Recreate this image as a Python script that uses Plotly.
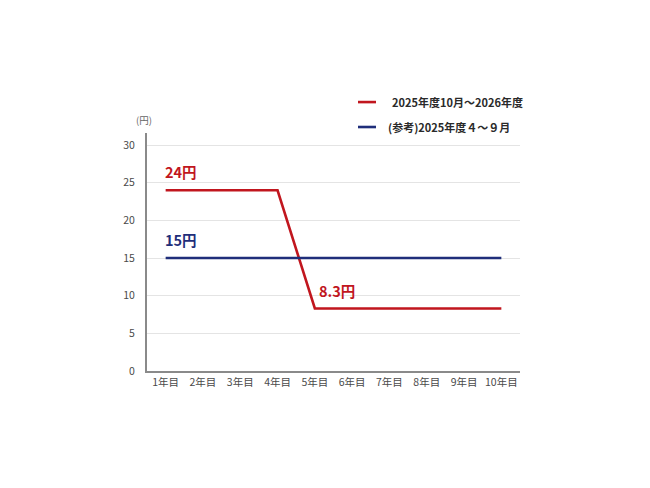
import plotly.graph_objects as go

years = ["1年目", "2年目", "3年目", "4年目", "5年目", "6年目", "7年目", "8年目", "9年目", "10年目"]
new_price = [24, 24, 24, 24, 8.3, 8.3, 8.3, 8.3, 8.3, 8.3]
ref_price = [15, 15, 15, 15, 15, 15, 15, 15, 15, 15]
series_names = ["2025年度10月～2026年度", "(参考)2025年度４～９月"]
y_ticks = [0, 5, 10, 15, 20, 25, 30]

RED = "#c1161e"
BLUE = "#1f2e7a"
FONT = "Noto Sans CJK JP"
xs = list(range(len(years)))

# plot box in page pixels
L, T, W, H = 147, 133, 373, 238.5
Y_MAX = 31.6


def px(xp, yp):
    return (xp - L) / W, (T + H - yp) / H


fig = go.Figure()
fig.add_trace(go.Scatter(x=xs, y=new_price, mode="lines", line=dict(color=RED, width=2.6),
                         name=series_names[0], showlegend=False))
fig.add_trace(go.Scatter(x=xs, y=ref_price, mode="lines", line=dict(color=BLUE, width=2.6),
                         name=series_names[1], showlegend=False))

# value labels
fig.add_annotation(x=0, y=new_price[0], text="<b>24円</b>", showarrow=False, xanchor="left",
                   yanchor="bottom", yshift=6, xshift=-3, font=dict(color=RED, size=14.5, family=FONT))
fig.add_annotation(x=0, y=ref_price[0], text="<b>15円</b>", showarrow=False, xanchor="left",
                   yanchor="bottom", yshift=6, xshift=-3, font=dict(color=BLUE, size=14.5, family=FONT))
fig.add_annotation(x=4, y=new_price[4], text="<b>8.3円</b>", showarrow=False, xanchor="left",
                   yanchor="bottom", yshift=5, xshift=2, font=dict(color=RED, size=14.5, family=FONT))

# unit label
ux, uy = px(154, 120)
fig.add_annotation(xref="paper", yref="paper", x=ux, y=uy, text="(円)", showarrow=False,
                   xanchor="right", yanchor="middle", font=dict(color="#666", size=9.5, family=FONT))

# custom legend
legend_items = [(series_names[0], RED, 102, 390), (series_names[1], BLUE, 127, 386)]
for name, col, ypx, tx in legend_items:
    x0, y0 = px(358, ypx)
    x1, _ = px(376, ypx)
    fig.add_shape(type="line", xref="paper", yref="paper", x0=x0, x1=x1, y0=y0, y1=y0,
                  line=dict(color=col, width=2.6))
    tx_, _ = px(tx, ypx)
    fig.add_annotation(xref="paper", yref="paper", x=tx_, y=y0,
                       text="<b>" + name + "</b>", showarrow=False, xanchor="left", yanchor="middle",
                       font=dict(color="#2a2a2a", size=11, family=FONT))

fig.update_xaxes(range=[-0.5, 9.5], tickvals=xs, ticktext=years, showgrid=False,
                 showline=True, linecolor="#8a8a8a", linewidth=2, ticks="",
                 tickfont=dict(color="#4a4a4a", size=10.5, family=FONT), zeroline=False, fixedrange=True)
fig.update_yaxes(range=[0, Y_MAX], tickvals=y_ticks, showgrid=True, gridcolor="#e4e4e4", gridwidth=1,
                 showline=True, linecolor="#8a8a8a", linewidth=2, ticks="", ticklabelstandoff=8,
                 tickfont=dict(color="#4a4a4a", size=10.5, family=FONT), zeroline=False, fixedrange=True)

# page body adds an 8px offset; compensate
ml, mt = L - 8, T - 8
fig.update_layout(width=650, height=488,
                  margin=dict(l=ml, r=650 - ml - W, t=mt, b=488 - mt - H),
                  plot_bgcolor="white", paper_bgcolor="white", font=dict(family=FONT),
                  showlegend=False)

fig.write_html("out.html")
